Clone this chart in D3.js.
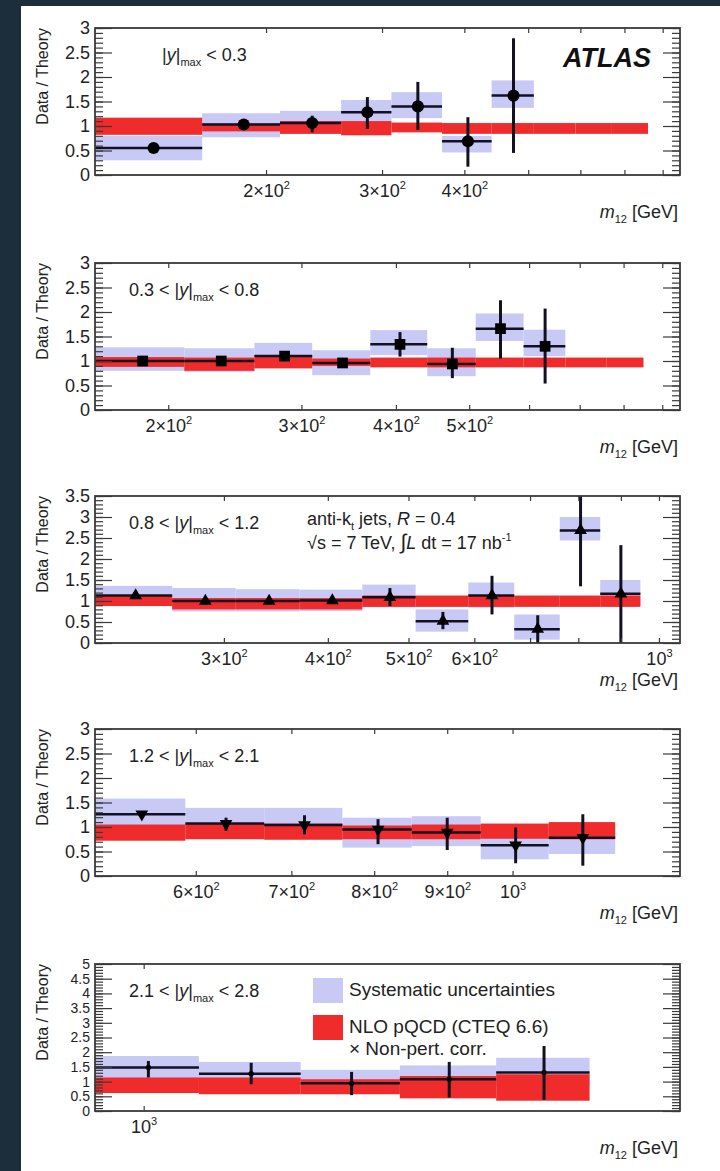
<!DOCTYPE html>
<html>
<head>
<meta charset="utf-8">
<script src="https://cdn.jsdelivr.net/npm/d3@7/dist/d3.min.js"></script>
<style>
body { margin: 0; background: #1c2d3b; }
svg { display: block; }
text { font-family: "Liberation Sans", Arial, Helvetica, sans-serif; }
</style>
</head>
<body>
<svg id="chart" width="720" height="1171"></svg>
<script>
// rapidity bins
var rapLow = [null, 0.3, 0.8, 1.2, 2.1];
var rapHigh = [0.3, 0.8, 1.2, 2.1, 2.8];

// axis ranges and labelled ticks (GeV)
var xRange1 = [110, 850], xRange2 = [160, 950], xRange3 = [210, 1060], xRange4 = [510, 1310], xRange5 = [950, 1760];
var yMax = [3, 3, 3.5, 3, 5];
var xLabels1 = [200, 300, 400];
var xLabels2 = [200, 300, 400, 500];
var xLabels3 = [300, 400, 500, 600, 1000];
var xLabels4 = [600, 700, 800, 900, 1000];
var xLabels5 = [1000];

// |y| < 0.3
var edges1 = [110, 160, 210, 260, 310, 370, 440, 510, 590, 670, 760];
var ratio1 = [0.55, 1.03, 1.06, 1.28, 1.40, 0.69, 1.62];
var stat1 = [[0.51, 0.59], [0.99, 1.07], [0.87, 1.21], [0.94, 1.59], [0.92, 1.90], [0.17, 1.18], [0.45, 2.79]];
var sys1 = [[0.30, 0.80], [0.77, 1.26], [0.84, 1.31], [1.02, 1.53], [1.16, 1.69], [0.46, 0.80], [1.37, 1.93]];
var theory1 = [[0.82, 1.17], [0.89, 1.05], [0.84, 1.10], [0.81, 1.10], [0.87, 1.07], [0.84, 1.06], [0.84, 1.06], [0.84, 1.06], [0.84, 1.06], [0.84, 1.06]];

// 0.3 < |y| < 0.8
var edges2 = [160, 210, 260, 310, 370, 440, 510, 590, 670, 760, 850];
var ratio2 = [1.00, 1.00, 1.10, 0.96, 1.34, 0.94, 1.66, 1.30];
var stat2 = [[0.96, 1.04], [0.96, 1.04], [1.05, 1.15], [0.90, 1.02], [1.09, 1.59], [0.65, 1.27], [1.05, 2.24], [0.54, 2.07]];
var sys2 = [[0.80, 1.28], [0.78, 1.26], [0.85, 1.37], [0.71, 1.22], [1.12, 1.63], [0.69, 1.26], [1.41, 1.97], [1.10, 1.64]];
var theory2 = [[0.88, 1.08], [0.80, 1.07], [0.85, 1.12], [0.90, 1.05], [0.87, 1.07], [0.87, 1.07], [0.87, 1.07], [0.87, 1.07], [0.87, 1.07], [0.87, 1.07]];

// 0.8 < |y| < 1.2
var edges3 = [210, 260, 310, 370, 440, 510, 590, 670, 760, 850, 950];
var ratio3 = [1.13, 1.00, 1.00, 1.01, 1.09, 0.52, 1.13, 0.33, 2.68, 1.17];
var stat3 = [[1.09, 1.17], [0.96, 1.04], [0.96, 1.04], [0.97, 1.05], [0.88, 1.31], [0.33, 0.74], [0.68, 1.60], [0.0, 0.66], [1.35, 3.5], [0.0, 2.33]];
var sys3 = [[0.88, 1.36], [0.75, 1.31], [0.75, 1.28], [0.76, 1.27], [0.85, 1.39], [0.27, 0.80], [0.84, 1.44], [0.08, 0.68], [2.44, 3.0], [0.90, 1.50]];
var theory3 = [[0.88, 1.13], [0.80, 1.07], [0.80, 1.07], [0.80, 1.07], [0.86, 1.13], [0.86, 1.13], [0.86, 1.13], [0.86, 1.13], [0.86, 1.13], [0.86, 1.13]];

// 1.2 < |y| < 2.1
var edges4 = [510, 590, 670, 760, 850, 950, 1060, 1180];
var ratio4 = [1.26, 1.07, 1.04, 0.95, 0.89, 0.63, 0.78];
var stat4 = [[1.21, 1.31], [0.92, 1.19], [0.85, 1.24], [0.65, 1.16], [0.53, 1.19], [0.26, 0.99], [0.21, 1.26]];
var sys4 = [[0.95, 1.58], [0.78, 1.39], [0.75, 1.39], [0.58, 1.19], [0.61, 1.22], [0.34, 0.95], [0.45, 1.05]];
var theory4 = [[0.72, 1.05], [0.75, 1.07], [0.74, 1.07], [0.75, 1.03], [0.75, 1.05], [0.76, 1.07], [0.75, 1.10]];

// 2.1 < |y| < 2.8
var edges5 = [950, 1060, 1180, 1310, 1450, 1600];
var ratio5 = [1.48, 1.27, 0.94, 1.08, 1.31];
var stat5 = [[1.14, 1.70], [0.91, 1.64], [0.54, 1.33], [0.46, 1.67], [0.38, 2.21]];
var sys5 = [[1.10, 1.87], [0.90, 1.67], [0.60, 1.40], [0.70, 1.55], [0.85, 1.81]];
var theory5 = [[0.61, 1.14], [0.57, 1.14], [0.57, 1.08], [0.43, 1.19], [0.35, 1.25]];

var panels = [
    {edges: edges1, ratio: ratio1, stat: stat1, sys: sys1, theory: theory1, xRange: xRange1, xLabels: xLabels1},
    {edges: edges2, ratio: ratio2, stat: stat2, sys: sys2, theory: theory2, xRange: xRange2, xLabels: xLabels2},
    {edges: edges3, ratio: ratio3, stat: stat3, sys: sys3, theory: theory3, xRange: xRange3, xLabels: xLabels3},
    {edges: edges4, ratio: ratio4, stat: stat4, sys: sys4, theory: theory4, xRange: xRange4, xLabels: xLabels4},
    {edges: edges5, ratio: ratio5, stat: stat5, sys: sys5, theory: theory5, xRange: xRange5, xLabels: xLabels5}
];

var colors = {
    "sys": "#c9c9f6",
    "theory": "#ef2b2b",
    "data": "#111122",
    "frame": "#3a3a3a",
    "text": "#222"
};

var frameLeft = 95, frameRight = 680;
var frameTops = [28, 263, 496, 729, 964];
var frameHeight = 147;
var markerTypes = [d3.symbolCircle, d3.symbolSquare, d3.symbolTriangle, d3.symbolTriangle, d3.symbolCircle];
var markerSizes = [115, 115, 70, 70, 22];
var markerRotate = [0, 0, 0, 180, 0];
var yLabelSize = [18, 18, 18, 18, 14];

var svg = d3.select("#chart");
svg.append("rect")
    .attr("x", 21).attr("y", 6)
    .attr("width", 699).attr("height", 1165)
    .attr("fill", "#fff");

// text with italic / sub / superscript pieces
function rich(sel, parts) {
    var shift = 0;
    parts.forEach(function (p) {
        var target = p.sub ? 5 : (p.sup ? -8 : 0);
        var ts = sel.append("tspan").text(p.t).attr("dy", target - shift);
        shift = target;
        if (p.sub || p.sup) ts.attr("font-size", p.size || 11);
        if (p.size && !(p.sub || p.sup)) ts.attr("font-size", p.size);
        if (p.it) ts.attr("font-style", "italic");
    });
}

function tickParts(v) {
    var k = Math.floor(Math.log10(v) + 1e-9);
    var n = Math.round(v / Math.pow(10, k));
    if (n == 1) return [{t: "10"}, {t: String(k), sup: true}];
    return [{t: n + "\u00d710"}, {t: String(k), sup: true}];
}

panels.forEach(function (p, i) {
    var top = frameTops[i], bottom = top + frameHeight;
    var x = d3.scaleLog().domain(p.xRange).range([frameLeft, frameRight]);
    var y = d3.scaleLinear().domain([0, yMax[i]]).range([bottom, top]);
    var g = svg.append("g");

    g.append("clipPath").attr("id", "clip" + i)
        .append("rect")
        .attr("x", frameLeft).attr("y", top)
        .attr("width", frameRight - frameLeft).attr("height", frameHeight);
    var plot = g.append("g").attr("clip-path", "url(#clip" + i + ")");

    // systematic band
    plot.selectAll(".sys").data(p.sys).enter().append("rect")
        .attr("x", (d, j) => x(p.edges[j]))
        .attr("width", (d, j) => x(p.edges[j + 1]) - x(p.edges[j]))
        .attr("y", d => y(d[1]))
        .attr("height", d => y(d[0]) - y(d[1]))
        .attr("fill", colors["sys"]);

    // theory band
    plot.selectAll(".th").data(p.theory).enter().append("rect")
        .attr("x", (d, j) => x(p.edges[j]))
        .attr("width", (d, j) => x(p.edges[j + 1]) - x(p.edges[j]))
        .attr("y", d => y(d[1]))
        .attr("height", d => y(d[0]) - y(d[1]))
        .attr("fill", colors["theory"]);

    // data: bin width bars, stat error bars, markers
    plot.selectAll(".hbar").data(p.ratio).enter().append("line")
        .attr("x1", (d, j) => x(p.edges[j]))
        .attr("x2", (d, j) => x(p.edges[j + 1]))
        .attr("y1", d => y(d)).attr("y2", d => y(d))
        .attr("stroke", colors["data"]).attr("stroke-width", 2.5);

    plot.selectAll(".vbar").data(p.stat).enter().append("line")
        .attr("x1", (d, j) => x((p.edges[j] + p.edges[j + 1]) / 2))
        .attr("x2", (d, j) => x((p.edges[j] + p.edges[j + 1]) / 2))
        .attr("y1", d => y(d[0])).attr("y2", d => y(d[1]))
        .attr("stroke", colors["data"]).attr("stroke-width", 3);

    var sym = d3.symbol().type(markerTypes[i]).size(markerSizes[i]);
    plot.selectAll(".mark").data(p.ratio).enter().append("path")
        .attr("d", sym)
        .attr("transform", (d, j) => "translate(" + x((p.edges[j] + p.edges[j + 1]) / 2) + "," + y(d) + ") rotate(" + markerRotate[i] + ")")
        .attr("fill", "#000");

    // y axes, ticks inside the frame
    var major = d3.range(0, yMax[i] + 1e-9, 0.5);
    var minor = d3.range(0, yMax[i] + 1e-9, 0.1);
    var yl = g.append("g").attr("transform", "translate(" + frameLeft + ",0)")
        .call(d3.axisLeft(y).tickValues(major).tickSize(-17).tickPadding(5).tickFormat(d => String(+d.toFixed(1))));
    var axes = [
        g.append("g").attr("transform", "translate(" + frameLeft + ",0)")
            .call(d3.axisLeft(y).tickValues(minor).tickSize(-8).tickFormat("")),
        yl,
        g.append("g").attr("transform", "translate(" + frameRight + ",0)")
            .call(d3.axisRight(y).tickValues(minor).tickSize(-8).tickFormat("")),
        g.append("g").attr("transform", "translate(" + frameRight + ",0)")
            .call(d3.axisRight(y).tickValues(major).tickSize(-17).tickFormat(""))
    ];

    // log x axes
    var xt = [];
    [100, 1000].forEach(function (dec) {
        for (var n = 1; n < 10; n++) {
            var v = n * dec;
            if (v >= p.xRange[0] && v <= p.xRange[1]) xt.push(v);
        }
    });
    var xb = g.append("g").attr("transform", "translate(0," + bottom + ")")
        .call(d3.axisBottom(x).tickValues(xt).tickSize(-5).tickPadding(9)
            .tickFormat(d => p.xLabels.indexOf(d) >= 0 ? "x" : ""));
    xb.selectAll(".tick text").each(function (d) {
        var t = d3.select(this);
        if (p.xLabels.indexOf(d) < 0) return;
        t.text(null).attr("dy", null).attr("y", 22);
        rich(t, tickParts(d));
    });
    var xtop = g.append("g").attr("transform", "translate(0," + top + ")")
        .call(d3.axisTop(x).tickValues(xt).tickSize(-5).tickFormat(""));
    axes.push(xb, xtop);

    axes.forEach(function (a) {
        a.attr("font-size", 18).attr("font-family", null).style("color", colors["frame"]);
        a.select(".domain").remove();
        a.selectAll(".tick line").attr("stroke-width", 1.2);
        a.selectAll(".tick text").attr("fill", colors["text"]);
    });
    yl.attr("font-size", yLabelSize[i]);

    g.append("rect")
        .attr("x", frameLeft).attr("y", top)
        .attr("width", frameRight - frameLeft).attr("height", frameHeight)
        .attr("fill", "none").attr("stroke", colors["frame"]).attr("stroke-width", 1.8);

    // axis titles
    g.append("text")
        .attr("transform", "translate(48," + top + ") rotate(-90)")
        .attr("text-anchor", "end")
        .attr("font-size", 16)
        .attr("fill", colors["text"])
        .text("Data / Theory");

    var xt2 = g.append("text")
        .attr("x", 678).attr("y", bottom + 43)
        .attr("text-anchor", "end")
        .attr("font-size", 18)
        .attr("fill", colors["text"]);
    rich(xt2, [{t: "m", it: true}, {t: "12", sub: true}, {t: " [GeV]"}]);

    // rapidity label
    var rl = g.append("text")
        .attr("x", i == 0 ? 162 : 129).attr("y", top + 33)
        .attr("font-size", 18)
        .attr("fill", colors["text"]);
    var parts = [];
    if (rapLow[i] != null) parts.push({t: rapLow[i] + " < "});
    parts.push({t: "|"}, {t: "y", it: true}, {t: "|"}, {t: "max", sub: true}, {t: " < " + rapHigh[i]});
    rich(rl, parts);
});

// ATLAS label
svg.append("text")
    .attr("x", 563).attr("y", 67)
    .attr("font-size", 27).attr("font-weight", "bold").attr("font-style", "italic")
    .attr("fill", "#111")
    .text("ATLAS");

// jet / energy labels in third panel
var j1 = svg.append("text").attr("x", 307).attr("y", 525).attr("font-size", 18).attr("fill", colors["text"]);
rich(j1, [{t: "anti-k"}, {t: "t", sub: true}, {t: "  jets,  "}, {t: "R", it: true}, {t: " = 0.4"}]);
var j2 = svg.append("text").attr("x", 307).attr("y", 549).attr("font-size", 18).attr("fill", colors["text"]);
rich(j2, [{t: "\u221as = 7 TeV, "}, {t: "\u222b", size: 21}, {t: "L", it: true}, {t: " dt = 17 nb"}, {t: "-1", sup: true}]);

// legend in last panel
var legend = [
    {color: colors["sys"], y: 978, lines: ["Systematic uncertainties"]},
    {color: colors["theory"], y: 1015, lines: ["NLO pQCD (CTEQ 6.6)", "\u00d7 Non-pert. corr."]}
];
var lg = svg.selectAll(".leg").data(legend).enter().append("g");
lg.append("rect")
    .attr("x", 313).attr("y", d => d.y)
    .attr("width", 30).attr("height", 25)
    .attr("fill", d => d.color);
lg.each(function (d) {
    var sel = d3.select(this);
    d.lines.forEach(function (l, k) {
        sel.append("text")
            .attr("x", 349).attr("y", d.y + 18 + k * 22)
            .attr("font-size", 19)
            .attr("fill", colors["text"])
            .text(l);
    });
});
</script>
</body>
</html>
